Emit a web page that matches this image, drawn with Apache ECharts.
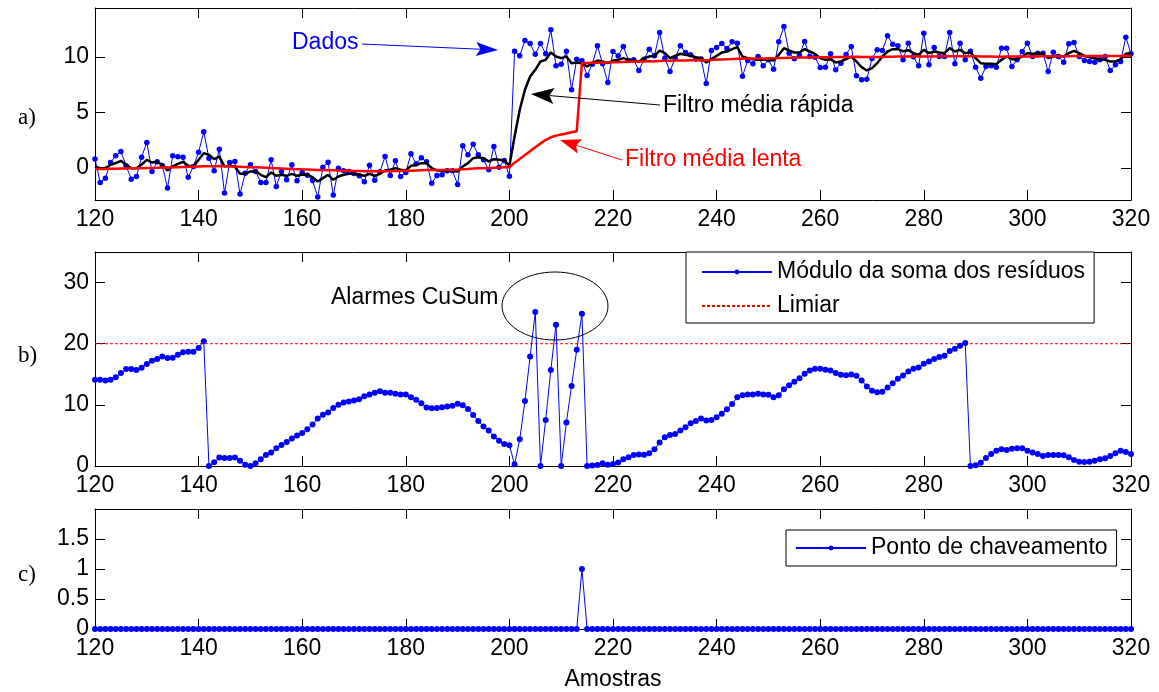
<!DOCTYPE html>
<html><head><meta charset="utf-8">
<script src="https://cdn.jsdelivr.net/npm/echarts@6/dist/echarts.min.js"></script>
<style>html,body{margin:0;padding:0;background:#fff}#c{width:1159px;height:692px}</style>
</head><body><div id="c"></div>
<script>
// ---- DATA ----
const xStart = 120;
const xEnd = 320;
const xTickStep = 20;
const yTicksA = [0, 5, 10];
const yTicksB = [0, 10, 20, 30];
const yTicksC = [0, 0.5, 1, 1.5];

const dados = [
  0.8, -1.32, -0.93, 0.48, 1.08, 1.47, 0.18, -1.02, -0.78, 0.96,
  2.28, -0.33, 0.54, 0.2, -1.83, 1.08, 1.0, 0.96, -0.84, 0.12,
  1.41, 3.24, 0.87, -0.27, 1.68, -2.28, 0.48, 0.57, -2.37, -0.48,
  0.27, -0.33, -1.32, -1.32, 0.72, -1.68, -0.33, -1.08, 0.27, -1.17,
  -0.42, -0.66, -1.14, -2.64, 0.06, 0.51, -2.46, -0.03, -0.27, -0.33,
  -0.51, -0.72, -1.26, 0.24, -1.11, -0.36, 1.02, -0.69, 0.63, -0.78,
  -0.42, 1.26, 0.36, 0.9, 0.54, -1.38, -0.69, -0.63, -0.27, -0.27,
  -1.5, 1.98, 1.17, 2.13, 1.17, 0.72, -0.18, 1.92, 0.06, 0.66,
  -0.75, 10.5, 10.1, 11.47, 11.2, 10.24, 11.2, 10.27, 12.43, 9.19,
  9.34, 10.5, 7.03, 9.79, 9.64, 8.32, 9.34, 10.99, 9.37, 7.69,
  10.48, 10.09, 10.93, 9.67, 9.73, 8.77, 9.79, 10.69, 10.09, 12.19,
  9.88, 8.68, 9.9, 11.0, 10.4, 10.18, 9.8, 9.8, 7.6, 10.57,
  10.85, 11.2, 10.75, 11.35, 11.23, 8.26, 9.67, 9.37, 10.03, 9.19,
  9.73, 8.89, 11.35, 12.73, 10.33, 9.82, 10.15, 11.38, 10.03, 9.97,
  9.04, 9.07, 10.27, 8.83, 9.43, 10.21, 10.93, 8.29, 7.93, 7.99,
  9.85, 10.63, 10.57, 11.89, 11.14, 10.99, 9.73, 11.23, 10.0, 9.19,
  12.13, 9.28, 10.84, 10.03, 10.03, 12.19, 9.37, 11.23, 9.73, 10.51,
  9.07, 8.08, 9.13, 9.19, 9.07, 10.78, 10.78, 9.13, 9.73, 10.48,
  11.23, 10.03, 10.33, 10.33, 8.68, 10.42, 10.03, 9.52, 11.17, 11.29,
  10.03, 9.67, 9.58, 9.52, 9.73, 10.03, 8.77, 9.28, 9.58, 11.77,
  10.27
];

const filtroRapida = [
  0.12, -0.03, -0.03, 0.27, 0.42, 0.63, 0.27, -0.03, -0.03, 0.3,
  0.72, 0.48, 0.54, 0.27, -0.24, 0.12, 0.36, 0.54, 0.18, 0.12,
  0.72, 1.32, 1.17, 0.78, 1.02, 0.12, 0.18, 0.12, -0.54, -0.54,
  -0.33, -0.33, -0.63, -0.84, -0.42, -0.72, -0.63, -0.72, -0.54, -0.72,
  -0.6, -0.63, -0.84, -1.23, -0.93, -0.63, -1.08, -0.78, -0.63, -0.54,
  -0.54, -0.63, -0.72, -0.54, -0.72, -0.54, -0.24, -0.18, -0.03, -0.18,
  -0.24, 0.18, 0.24, 0.42, 0.42, -0.03, -0.24, -0.27, -0.24, -0.27,
  -0.33, 0.12, 0.42, 0.87, 0.96, 0.87, 0.57, 0.78, 0.72, 0.66,
  0.2, 2.82, 5.23, 7.03, 8.23, 8.83, 9.58, 9.73, 10.39, 10.03,
  9.88, 10.03, 9.43, 9.49, 9.43, 9.13, 9.43, 9.67, 9.58, 9.43,
  9.67, 9.73, 9.88, 9.73, 9.67, 9.58, 9.88, 10.03, 10.09, 10.57,
  10.33, 9.88, 10.09, 10.28, 10.18, 10.09, 9.97, 9.88, 9.49, 9.79,
  10.09, 10.39, 10.48, 10.69, 10.87, 10.03, 9.88, 9.79, 9.73, 9.73,
  9.73, 9.67, 10.18, 10.78, 10.57, 10.39, 10.39, 10.69, 10.48, 10.27,
  9.88, 9.73, 9.79, 9.49, 9.58, 9.79, 10.03, 9.58, 9.07, 8.77,
  8.98, 9.43, 10.03, 10.48, 10.69, 10.69, 10.5, 10.6, 10.33, 10.18,
  10.63, 10.33, 10.48, 10.39, 10.33, 10.78, 10.48, 10.63, 10.33, 10.39,
  9.88, 9.43, 9.37, 9.37, 9.34, 9.73, 10.03, 9.79, 9.79, 10.03,
  10.33, 10.27, 10.33, 10.27, 9.88, 10.03, 10.09, 10.03, 10.33, 10.54,
  10.33, 10.09, 9.97, 9.88, 9.79, 9.73, 9.58, 9.58, 9.79, 10.27,
  10.33
];

const filtroLenta = [
  -0.12, -0.11, -0.1, -0.09, -0.08, -0.07, -0.06, -0.05, -0.04, -0.03,
  -0.02, -0.01, 0, 0.02, 0.03, 0.05, 0.06, 0.08, 0.09, 0.1,
  0.12, 0.14, 0.15, 0.15, 0.16, 0.15, 0.14, 0.12, 0.1, 0.08,
  0.06, 0.04, 0.02, 0, -0.02, -0.04, -0.06, -0.08, -0.1, -0.12,
  -0.14, -0.15, -0.17, -0.19, -0.2, -0.22, -0.23, -0.25, -0.26, -0.27,
  -0.28, -0.29, -0.3, -0.31, -0.32, -0.32, -0.31, -0.3, -0.29, -0.28,
  -0.27, -0.26, -0.24, -0.22, -0.2, -0.2, -0.2, -0.19, -0.18, -0.17,
  -0.15, -0.12, -0.1, -0.07, -0.05, -0.03, -0.01, 0.01, 0.03, 0.05,
  0.06, 0.45, 0.8, 1.15, 1.5, 1.85, 2.2, 2.5, 2.75, 2.9,
  3.0, 3.1, 3.2, 3.3, 9.43, 9.45, 9.46, 9.47, 9.48, 9.5,
  9.51, 9.52, 9.54, 9.55, 9.56, 9.58, 9.59, 9.6, 9.61, 9.63,
  9.64, 9.65, 9.66, 9.67, 9.68, 9.69, 9.7, 9.71, 9.7, 9.72,
  9.75, 9.77, 9.79, 9.8, 9.82, 9.83, 9.84, 9.85, 9.86, 9.86,
  9.87, 9.88, 9.89, 9.9, 9.91, 9.92, 9.93, 9.94, 9.95, 9.96,
  9.96, 9.97, 9.97, 9.98, 9.98, 9.99, 9.99, 10.0, 9.99, 9.98,
  9.98, 9.98, 9.99, 10.0, 10.01, 10.02, 10.02, 10.03, 10.03, 10.03,
  10.04, 10.04, 10.04, 10.05, 10.05, 10.06, 10.06, 10.06, 10.06, 10.06,
  10.05, 10.04, 10.03, 10.02, 10.01, 10.01, 10.02, 10.02, 10.02, 10.03,
  10.03, 10.04, 10.04, 10.05, 10.05, 10.05, 10.05, 10.06, 10.06, 10.07,
  10.07, 10.07, 10.07, 10.07, 10.07, 10.08, 10.08, 10.08, 10.08, 10.09,
  10.09
];

const cusum = [
  14.1, 14.1, 14.0, 14.1, 14.5, 15.2, 15.85, 15.85, 15.7, 16.07,
  16.67, 17.2, 17.5, 17.9, 17.65, 17.7, 18.2, 18.6, 18.7, 18.7,
  19.3, 20.4, 0, 0.6, 1.37, 1.3, 1.3, 1.4, 0.87, 0.2,
  0, 0.44, 1.1, 1.8, 2.2, 2.9, 3.44, 3.93, 4.48, 5.0,
  5.41, 6.01, 6.78, 7.76, 8.4, 8.75, 9.5, 10.0, 10.4, 10.55,
  10.7, 10.93, 11.4, 11.7, 12.0, 12.24, 12.0, 12.0, 11.8, 11.7,
  11.7, 11.26, 10.82, 10.27, 9.56, 9.45, 9.5, 9.62, 9.73, 9.84,
  10.2, 9.95, 9.34, 8.36, 7.38, 6.45, 5.79, 4.81, 4.15, 3.6,
  3.39, 0.27, 4.37, 10.65, 17.9, 25.2, 0, 7.54, 15.7, 23.1,
  0, 7.1, 13.1, 19.0, 24.9, 0, 0.1, 0.18, 0.47, 0.22,
  0.33, 0.57, 1.1, 1.42, 1.78, 1.88, 1.86, 2.08, 2.73, 3.83,
  4.7, 5.08, 5.25, 5.79, 6.34, 7.0, 7.38, 7.76, 7.43, 7.54,
  7.98, 8.53, 9.29, 10.16, 11.26, 11.59, 11.7, 11.7, 11.8, 11.7,
  11.64, 11.26, 11.59, 12.57, 13.22, 13.77, 14.37, 15.08, 15.63, 15.9,
  15.9, 15.74, 15.63, 15.19, 14.92, 14.86, 14.97, 14.75, 14.0, 13.0,
  12.3, 12.08, 12.13, 12.84, 13.55, 14.26, 14.81, 15.46, 15.9, 16.12,
  16.72, 17.1, 17.49, 17.81, 18.03, 18.8, 19.18, 19.67, 20.11, 0,
  0.11, 0.55, 1.31, 1.97, 2.51, 2.73, 2.62, 2.84, 2.9, 2.9,
  2.51, 2.19, 1.97, 1.64, 1.8, 1.8, 1.8, 1.75, 1.42, 0.98,
  0.71, 0.66, 0.71, 0.87, 1.09, 1.26, 1.64, 2.08, 2.51, 2.3,
  1.97
];

const limiar = 20;

const chaveamento = [
  0,0,0,0,0,0,0,0,0,0, 0,0,0,0,0,0,0,0,0,0,
  0,0,0,0,0,0,0,0,0,0, 0,0,0,0,0,0,0,0,0,0,
  0,0,0,0,0,0,0,0,0,0, 0,0,0,0,0,0,0,0,0,0,
  0,0,0,0,0,0,0,0,0,0, 0,0,0,0,0,0,0,0,0,0,
  0,0,0,0,0,0,0,0,0,0, 0,0,0,0,1,0,0,0,0,0,
  0,0,0,0,0,0,0,0,0,0, 0,0,0,0,0,0,0,0,0,0,
  0,0,0,0,0,0,0,0,0,0, 0,0,0,0,0,0,0,0,0,0,
  0,0,0,0,0,0,0,0,0,0, 0,0,0,0,0,0,0,0,0,0,
  0,0,0,0,0,0,0,0,0,0, 0,0,0,0,0,0,0,0,0,0,
  0,0,0,0,0,0,0,0,0,0, 0,0,0,0,0,0,0,0,0,0,
  0
];

// ---- CHART ----
const FONT = "'Liberation Sans', Arial, Helvetica, sans-serif";
const SERIF = "'Liberation Serif', 'Times New Roman', serif";
const FS = 23;
const BLUE = '#0000ff', RED = '#ff0000';
const pairs = arr => arr.map((v, i) => [xStart + i, v]);

const grids = [
  {left: 95, top: 8, width: 1036, height: 192},
  {left: 95, top: 252, width: 1036, height: 214},
  {left: 95, top: 509, width: 1036, height: 122}
];
const yRanges = [[-2.9, 14.4, yTicksA], [0, 35, yTicksB], [0, 2, yTicksC]];

const xAxes = [], yAxes = [];
grids.forEach((g, gi) => {
  const line = {show: true, onZero: false, lineStyle: {color: '#000', width: 1}};
  const tick = {show: true, inside: true, length: 10, lineStyle: {color: '#000', width: 1}};
  xAxes.push({
    gridIndex: gi, type: 'value', position: 'bottom', min: xStart, max: xEnd, interval: xTickStep,
    axisLine: line, axisTick: tick, splitLine: {show: false},
    axisLabel: {color: '#000', fontSize: FS, fontFamily: FONT, margin: 8},
    name: gi === 2 ? 'Amostras' : '', nameLocation: 'middle', nameGap: 39,
    nameTextStyle: {color: '#000', fontSize: FS, fontFamily: FONT}
  });
  xAxes.push({
    gridIndex: gi, type: 'value', position: 'top', min: xStart, max: xEnd, interval: xTickStep,
    axisLine: line, axisTick: tick, splitLine: {show: false}, axisLabel: {show: false}
  });
  const [mn, mx, tv] = yRanges[gi];
  yAxes.push({
    gridIndex: gi, type: 'value', position: 'left', min: mn, max: mx,
    axisLine: line, axisTick: Object.assign({customValues: tv}, tick), splitLine: {show: false},
    axisLabel: {customValues: tv, color: '#000', fontSize: FS, fontFamily: FONT, margin: 6, padding: [6, 0, 0, 0]}
  });
  yAxes.push({
    gridIndex: gi, type: 'value', position: 'right', min: mn, max: mx,
    axisLine: line, axisTick: Object.assign({customValues: tv}, tick), splitLine: {show: false},
    axisLabel: {show: false}
  });
});

const dotSeries = (name, data, xi, yi, z, size) => ({
  name, type: 'line', xAxisIndex: xi, yAxisIndex: yi, data: pairs(data),
  symbol: 'circle', symbolSize: size, showSymbol: true, showAllSymbol: true,
  lineStyle: {color: BLUE, width: 1}, itemStyle: {color: BLUE}, z: z || 2,
  emphasis: {disabled: true}
});

const series = [
  dotSeries('Dados', dados, 0, 0, 2, 5.5),
  {name: 'Filtro média rápida', type: 'line', xAxisIndex: 0, yAxisIndex: 0, data: pairs(filtroRapida),
   showSymbol: false, symbol: 'none', lineStyle: {color: '#000', width: 2.5}, z: 3},
  {name: 'Filtro média lenta', type: 'line', xAxisIndex: 0, yAxisIndex: 0, data: pairs(filtroLenta),
   showSymbol: false, symbol: 'none', lineStyle: {color: RED, width: 2.5}, z: 4},
  dotSeries('Módulo da soma dos resíduos', cusum, 2, 2, 3, 6),
  {name: 'Limiar', type: 'line', xAxisIndex: 2, yAxisIndex: 2, data: [[xStart, limiar], [xEnd, limiar]],
   symbol: 'circle', showSymbol: false, lineStyle: {color: RED, width: 1, type: [3, 2]}, itemStyle: {color: RED}, z: 2},
  dotSeries('Ponto de chaveamento', chaveamento, 4, 4, 3, 6)
];

function arrow(x1, y1, x2, y2, color, len, half) {
  const dx = x2 - x1, dy = y2 - y1, L = Math.hypot(dx, dy), ux = dx / L, uy = dy / L, px = -uy, py = ux;
  const bx = x2 - ux * len, by = y2 - uy * len;
  const nx = x2 - ux * len * 0.8, ny = y2 - uy * len * 0.8;
  return [
    {type: 'line', shape: {x1: x1, y1: y1, x2: nx, y2: ny}, style: {stroke: color, lineWidth: 1}, z: 100},
    {type: 'polygon', shape: {points: [[x2, y2], [bx + px * half, by + py * half], [nx, ny], [bx - px * half, by - py * half]]},
     style: {fill: color}, z: 100}
  ];
}
const txt = (x, y, text, color, font, align) => ({
  type: 'text', z: 100,
  style: {x: x, y: y, text: text, fill: color, font: font, align: align || 'left', verticalAlign: 'middle'}
});

const graphic = [
  txt(18, 118, 'a)', '#000', FS + "px " + SERIF),
  txt(18, 356, 'b)', '#000', FS + "px " + SERIF),
  txt(18, 575, 'c)', '#000', FS + "px " + SERIF),
  txt(292, 43, 'Dados', BLUE, FS + "px " + FONT),
  txt(663, 106, 'Filtro média rápida', '#000', FS + "px " + FONT),
  txt(625, 160, 'Filtro média lenta', RED, FS + "px " + FONT),
  txt(331, 298, 'Alarmes CuSum', '#000', FS + "px " + FONT),
  {type: 'ellipse', shape: {cx: 555, cy: 306, rx: 53, ry: 34}, style: {fill: 'none', stroke: '#000', lineWidth: 1}, z: 100},
  ...arrow(362, 44, 498, 50, BLUE, 22, 7),
  ...arrow(660, 105, 531, 94, '#000', 23, 8),
  ...arrow(622, 160, 560, 140, RED, 21, 7.5)
];

const chart = echarts.init(document.getElementById('c'), null, {renderer: 'canvas'});
chart.setOption({
  animation: false,
  backgroundColor: '#fff',
  grid: grids,
  xAxis: xAxes,
  yAxis: yAxes,
  legend: [
    {orient: 'vertical', left: 686, top: 252, padding: [8, 9, 5, 15], itemGap: 10, itemWidth: 70, itemHeight: 6,
     borderColor: '#000', borderWidth: 1, borderRadius: 0, backgroundColor: '#fff', selectedMode: false,
     textStyle: {fontSize: FS, fontFamily: FONT, color: '#000', lineHeight: 24},
     data: [{name: 'Módulo da soma dos resíduos'}, {name: 'Limiar', itemStyle: {opacity: 0}}]},
    {orient: 'vertical', left: 786, top: 530, padding: [6, 9, 6, 9], itemWidth: 70, itemHeight: 6,
     borderColor: '#000', borderWidth: 1, borderRadius: 0, backgroundColor: '#fff', selectedMode: false,
     textStyle: {fontSize: FS, fontFamily: FONT, color: '#000', lineHeight: 24},
     data: [{name: 'Ponto de chaveamento'}]}
  ],
  series: series,
  graphic: graphic
});
</script></body></html>
